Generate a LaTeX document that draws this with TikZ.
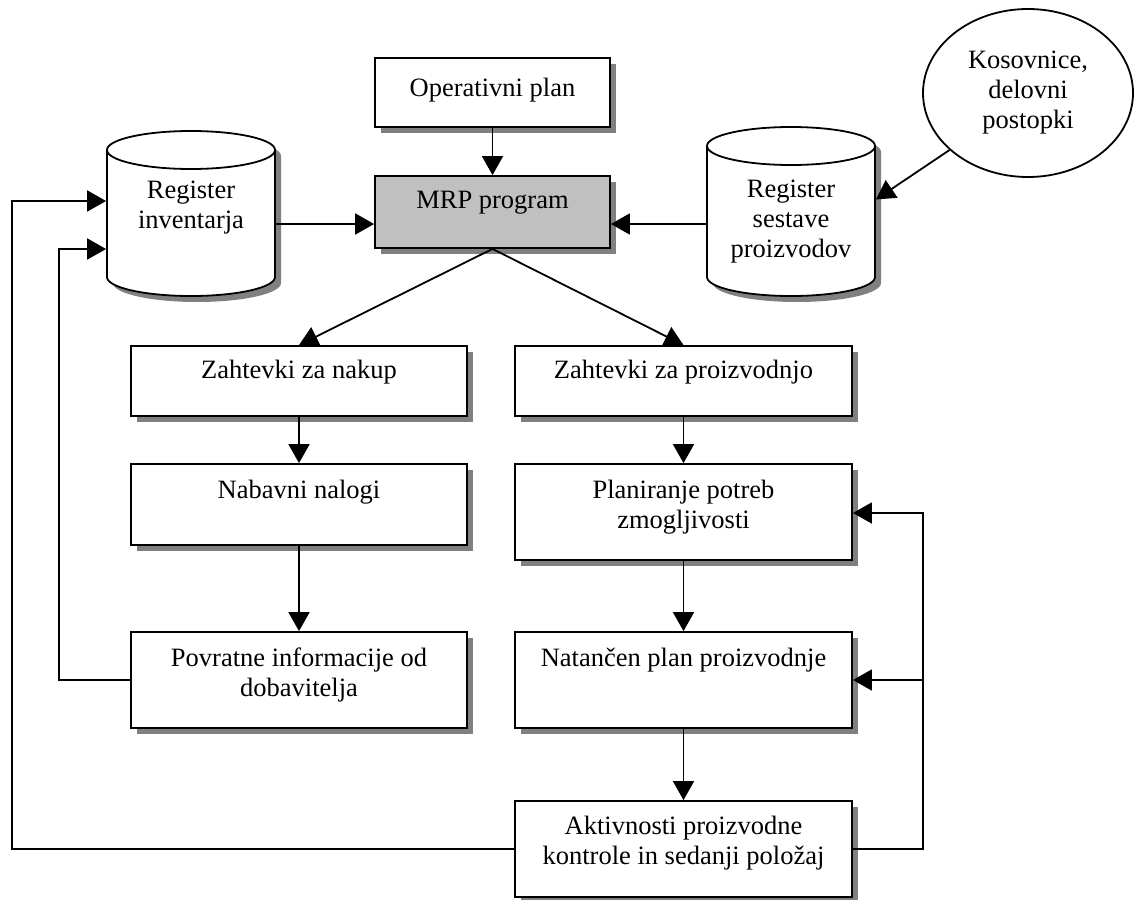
\documentclass[tikz,border=0pt]{standalone}
\usepackage{fontspec}
\setmainfont{Liberation Serif}
\usetikzlibrary{arrows.meta,shapes.geometric,shadows}
\definecolor{shd}{HTML}{808080}
\definecolor{mrpfill}{HTML}{C0C0C0}
% cylinder outline: #1 centre x, #2 top ellipse y, #3 bottom ellipse y
\newcommand\drumpath[3]{(#1-84,-#2) -- (#1-84,-#3)
  arc[start angle=180,end angle=360,x radius=84,y radius=19]
  -- (#1+84,-#2)
  arc[start angle=0,end angle=180,x radius=84,y radius=19] -- cycle}
\newcommand\drum[3]{%
  \begin{scope}[shift={(6,-6)}]
    \fill[shd] \drumpath{#1}{#2}{#3};
  \end{scope}
  \filldraw[fill=white,draw=black] \drumpath{#1}{#2}{#3};
  \draw (#1-84,-#2) arc[start angle=180,end angle=360,x radius=84,y radius=19];
}
\begin{document}
\begin{tikzpicture}[x=1pt,y=1pt,line width=1.8pt,
  box/.style={draw,fill=white,rectangle,inner sep=0pt,
    drop shadow={shadow xshift=6pt,shadow yshift=-6pt,opacity=1,fill=shd}},
  lbl/.style={inner sep=0pt,align=center,font=\fontsize{26.5}{30}\selectfont},
  arr/.style={-{Triangle[length=19pt,width=21pt]}},
]
\useasboundingbox (0,0) rectangle (1134,-899);

% data stores
\drum{191}{150}{277}
\drum{791}{146}{277}
\node[minimum width=168pt,minimum height=165pt,inner sep=0pt] (inv) at (191,-213.5) {};
\node[minimum width=168pt,minimum height=169pt,inner sep=0pt] (ses) at (791,-211.5) {};
\node[lbl] (invt) at (191,-208) {Register\\inventarja};
\node[lbl] (sest) at (791,-222) {Register\\sestave\\proizvodov};

% external source
\node[ellipse,draw,fill=white,minimum width=210pt,minimum height=168pt,lbl] (kos)
  at (1028,-93) {Kosovnice,\\delovni\\postopki};

% process boxes
\node[box,minimum width=235pt,minimum height=69pt] (op) at (492.5,-92.5) {};
\node[box,fill=mrpfill,minimum width=235pt,minimum height=72pt] (mrp) at (492.5,-212) {};
\node[box,minimum width=336pt,minimum height=70pt] (nakup) at (299,-381) {};
\node[box,minimum width=337pt,minimum height=70pt] (proiz) at (683.5,-381) {};
\node[box,minimum width=336pt,minimum height=81pt] (nalog) at (299,-504.5) {};
\node[box,minimum width=337pt,minimum height=96pt] (plan) at (683.5,-512) {};
\node[box,minimum width=336pt,minimum height=96pt] (povr) at (299,-680) {};
\node[box,minimum width=337pt,minimum height=96pt] (nat) at (683.5,-680) {};
\node[box,minimum width=337pt,minimum height=96pt] (akt) at (683.5,-849) {};

% box texts
\node[lbl] (opt) at (492.5,-90) {Operativni plan};
\node[lbl] (mrpt) at (492.5,-203) {MRP program};
\node[lbl] (nakupt) at (299,-372) {Zahtevki za nakup};
\node[lbl] (proizt) at (683.5,-372) {Zahtevki za proizvodnjo};
\node[lbl] (nalogt) at (299,-492) {Nabavni nalogi};
\node[lbl] (plant) at (683.5,-507) {Planiranje potreb\\zmogljivosti};
\node[lbl] (povrt) at (299,-675) {Povratne informacije od\\dobavitelja};
\node[lbl] (natt) at (683.5,-660) {Natančen plan proizvodnje};
\node[lbl] (aktt) at (683.5,-843) {Aktivnosti proizvodne\\kontrole in sedanji položaj};

% connectors
\coordinate (mrpin) at (0,-224);
\coordinate (fbin) at (59,-249);
\coordinate (fbout) at (12,-201);
\coordinate (fbright) at (923,-513);

\draw[arr] (op.south) -- (mrp.north);
\draw[arr] (inv.east |- mrpin) -- (mrp.west |- mrpin);
\draw[arr] (ses.west |- mrpin) -- (mrp.east |- mrpin);
\draw[arr] (kos.216) -- ([yshift=12pt]ses.east);
\draw[arr] (mrp.south) -- (nakup.north);
\draw[arr] (mrp.south) -- (proiz.north);
\draw[arr] (nakup.south) -- (nalog.north);
\draw[arr] (nalog.south) -- (povr.north);
\draw[arr] (proiz.south) -- (plan.north);
\draw[arr] (plan.south) -- (nat.north);
\draw[arr] (nat.south) -- (akt.north);
\draw[arr] (povr.west) -| (fbin) -- (inv.west |- fbin);
\draw[arr] (akt.west) -| (fbout) -- (inv.west |- fbout);
\draw[arr] (akt.east) -| (fbright) -- (plan.east |- fbright);
\draw[arr] (nat.east -| fbright) -- (nat.east);
\end{tikzpicture}
\end{document}
